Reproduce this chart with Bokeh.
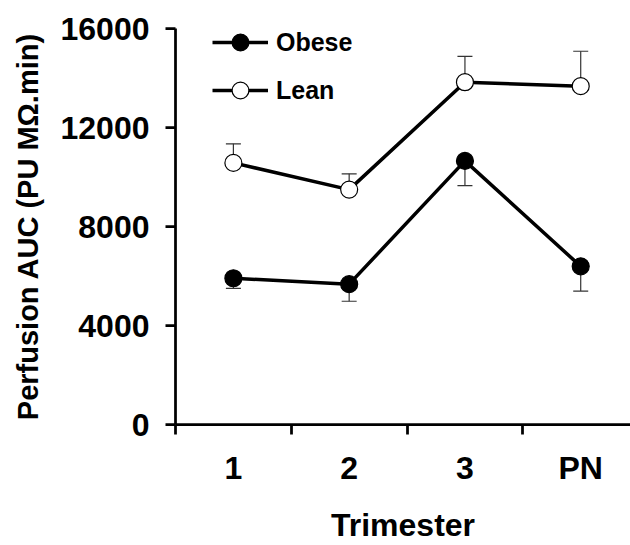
from bokeh.plotting import figure
from bokeh.models import (Range1d, FixedTicker, Whisker, TeeHead, ColumnDataSource,
                          Legend, LegendItem)
from bokeh.embed import file_html
from bokeh.resources import INLINE

# ---- data ----
categories = ["1", "2", "3", "PN"]
obese_mean = [5910, 5670, 10650, 6390]
obese_sem = [410, 690, 1000, 1000]
lean_mean = [10570, 9490, 13830, 13670]
lean_sem = [770, 640, 1040, 1410]
y_ticks = [0, 4000, 8000, 12000, 16000]

xs = [i + 1 for i in range(len(categories))]
FONT = "Liberation Sans"

p = figure(width=630, height=545, output_backend="svg", toolbar_location=None,
           x_range=Range1d(0.5, 4.43), y_range=Range1d(0, 16000),
           min_border_left=175, min_border_right=0, min_border_top=28,
           min_border_bottom=117)
p.outline_line_color = None
p.grid.visible = False
p.background_fill_color = "white"

# error bars
obese_src = ColumnDataSource(dict(x=xs, lower=[m - e for m, e in zip(obese_mean, obese_sem)],
                                  upper=obese_mean))
lean_src = ColumnDataSource(dict(x=xs, lower=lean_mean,
                                 upper=[m + e for m, e in zip(lean_mean, lean_sem)]))
wo = Whisker(base="x", lower="lower", upper="upper", source=obese_src,
             line_color="#333333", line_width=1.2, upper_head=None,
             lower_head=TeeHead(size=15, line_color="#333333", line_width=1.2))
wl = Whisker(base="x", lower="lower", upper="upper", source=lean_src,
             line_color="#333333", line_width=1.2, lower_head=None,
             upper_head=TeeHead(size=15, line_color="#333333", line_width=1.2))
p.add_layout(wo)
p.add_layout(wl)

ol = p.line(xs, obese_mean, line_color="black", line_width=3.5)
os_ = p.scatter(xs, obese_mean, size=17, fill_color="black", line_color="black",
                line_width=1.2)
ll = p.line(xs, lean_mean, line_color="black", line_width=3.5)
ls = p.scatter(xs, lean_mean, size=17, fill_color="white", line_color="black",
               line_width=1.2)

legend = Legend(items=[LegendItem(label="Obese", renderers=[ol, os_]),
                       LegendItem(label="Lean", renderers=[ll, ls])],
                location=(37, 313))
legend.glyph_width = 56
legend.glyph_height = 42
legend.spacing = 6
legend.padding = 0
legend.margin = 0
legend.label_standoff = 8
legend.border_line_color = None
legend.background_fill_alpha = 0
legend.label_text_font = FONT
legend.label_text_font_style = "bold"
legend.label_text_font_size = "25px"
legend.label_text_color = "black"
p.add_layout(legend)

# y axis
ya = p.yaxis[0]
ya.ticker = FixedTicker(ticks=y_ticks)
ya.axis_label = "Perfusion AUC (PU M\u03a9.min)"
ya.axis_line_width = 2.75
ya.major_tick_line_width = 2.75
ya.major_tick_out = 10
ya.major_tick_in = 0
ya.minor_tick_line_color = None
ya.major_label_standoff = 16
ya.major_label_text_font = FONT
ya.major_label_text_font_style = "bold"
ya.major_label_text_font_size = "32px"
ya.major_label_text_color = "black"
ya.axis_label_text_font = FONT
ya.axis_label_text_font_style = "bold"
ya.axis_label_text_font_size = "29px"
ya.axis_label_text_color = "black"
ya.axis_label_standoff = 14

# x axis
xa = p.xaxis[0]
xa.ticker = FixedTicker(ticks=xs, minor_ticks=[x - 0.5 for x in xs])
xa.major_label_overrides = {x: c for x, c in zip(xs, categories)}
xa.axis_label = "Trimester"
xa.axis_line_width = 2.75
xa.major_tick_line_color = None
xa.major_tick_out = 0
xa.major_tick_in = 0
xa.minor_tick_line_width = 2.75
xa.minor_tick_out = 10
xa.minor_tick_in = 0
xa.minor_tick_line_color = "black"
xa.major_label_standoff = 15
xa.major_label_text_font = FONT
xa.major_label_text_font_style = "bold"
xa.major_label_text_font_size = "32px"
xa.major_label_text_color = "black"
xa.axis_label_text_font = FONT
xa.axis_label_text_font_style = "bold"
xa.axis_label_text_font_size = "32px"
xa.axis_label_text_color = "black"
xa.axis_label_standoff = 18

open("out.html", "w").write(file_html(p, INLINE))
